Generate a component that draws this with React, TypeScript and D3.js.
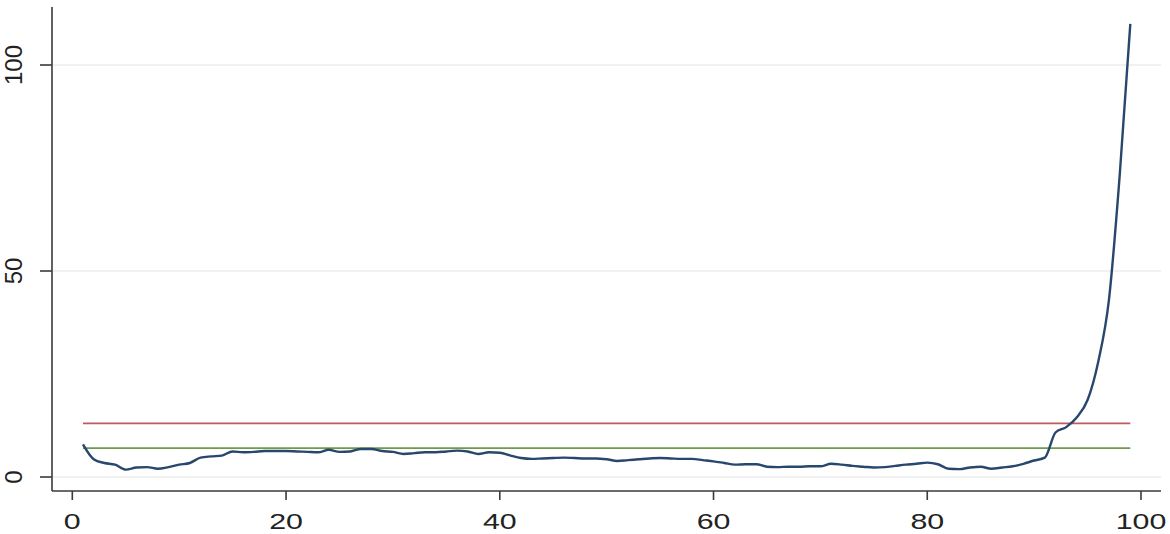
import React from "react";
import * as d3 from "d3";

const W = 1170;
const H = 534;

// percentile positions and smoothed values
const xs: number[] = Array.from({ length: 99 }, (_, i) => i + 1);
const values: number[] = [
  7.9, 4.3, 3.4, 3.0, 1.8, 2.3, 2.4, 2.0, 2.4, 3.0,
  3.4, 4.7, 5.0, 5.2, 6.2, 6.0, 6.1, 6.3, 6.3, 6.3,
  6.2, 6.1, 6.0, 6.6, 6.1, 6.2, 6.8, 6.8, 6.3, 6.1,
  5.6, 5.8, 6.0, 6.0, 6.2, 6.4, 6.2, 5.6, 6.0, 5.9,
  5.2, 4.6, 4.4, 4.5, 4.6, 4.7, 4.6, 4.5, 4.5, 4.3,
  3.9, 4.1, 4.3, 4.5, 4.6, 4.5, 4.4, 4.4, 4.1, 3.8,
  3.4, 3.0, 3.1, 3.1, 2.5, 2.4, 2.5, 2.5, 2.6, 2.6,
  3.2, 3.0, 2.7, 2.5, 2.3, 2.4, 2.7, 3.0, 3.2, 3.5,
  3.1, 2.0, 1.9, 2.3, 2.5, 2.0, 2.3, 2.6, 3.2, 4.0,
  4.7, 10.8, 12.1, 14.5, 18.7, 28, 43, 73, 110,
];
const refRed = 13.0;
const refGreen = 7.0;
const refRange: number[] = [1, 99];

const xTicks: number[] = [0, 20, 40, 60, 80, 100];
const yTicks: number[] = [0, 50, 100];

export default function App() {
  const x = d3.scaleLinear().domain([0, 100]).range([72.3, 1141]);
  const y = d3.scaleLinear().domain([0, 100]).range([477, 65]);

  const axisX0 = 52;
  const axisX1 = 1161;
  const axisY = 491;
  const axisTop = 7;

  const data = xs.map((v, i) => [v, values[i]] as [number, number]);
  const line = d3
    .line<[number, number]>()
    .x((d) => x(d[0]))
    .y((d) => y(d[1]))
    .curve(d3.curveMonotoneX);

  const font = "'Liberation Sans', Arial, Helvetica, sans-serif";
  const axisColor = "#3a3a3a";

  return (
    <svg
      width={W}
      height={H}
      style={{ position: "absolute", left: 0, top: 0, background: "#fff" }}
    >
      {/* gridlines */}
      {yTicks.map((t) => (
        <line
          key={"g" + t}
          x1={axisX0 + 1}
          x2={axisX1}
          y1={y(t)}
          y2={y(t)}
          stroke="#ececec"
          strokeWidth={1.5}
        />
      ))}

      {/* reference lines */}
      <line
        x1={x(refRange[0])}
        x2={x(refRange[1])}
        y1={y(refRed)}
        y2={y(refRed)}
        stroke="#c05a5e"
        strokeWidth={1.8}
      />
      <line
        x1={x(refRange[0])}
        x2={x(refRange[1])}
        y1={y(refGreen)}
        y2={y(refGreen)}
        stroke="#6f9a4c"
        strokeWidth={1.8}
      />

      {/* main line */}
      <path
        d={line(data) || ""}
        fill="none"
        stroke="#28476d"
        strokeWidth={2.4}
        strokeLinejoin="round"
      />

      {/* axes */}
      <line x1={axisX0} x2={axisX0} y1={axisTop} y2={axisY} stroke={axisColor} strokeWidth={1.6} />
      <line x1={axisX0} x2={axisX1} y1={axisY} y2={axisY} stroke={axisColor} strokeWidth={1.6} />

      {yTicks.map((t) => (
        <g key={"yt" + t}>
          <line x1={axisX0 - 12} x2={axisX0} y1={y(t)} y2={y(t)} stroke={axisColor} strokeWidth={1.6} />
          <text
            transform={`translate(22,${y(t)}) rotate(-90)`}
            textAnchor="middle"
            fontFamily={font}
            fontSize={24}
            fill="#222"
          >
            {t}
          </text>
        </g>
      ))}

      {xTicks.map((t) => (
        <g key={"xt" + t}>
          <line x1={x(t)} x2={x(t)} y1={axisY} y2={axisY + 9} stroke={axisColor} strokeWidth={1.6} />
          <text
            transform={`translate(${x(t)},528.5) scale(1.38,1)`}
            textAnchor="middle"
            fontFamily={font}
            fontSize={22}
            fill="#222"
          >
            {t}
          </text>
        </g>
      ))}
    </svg>
  );
}
